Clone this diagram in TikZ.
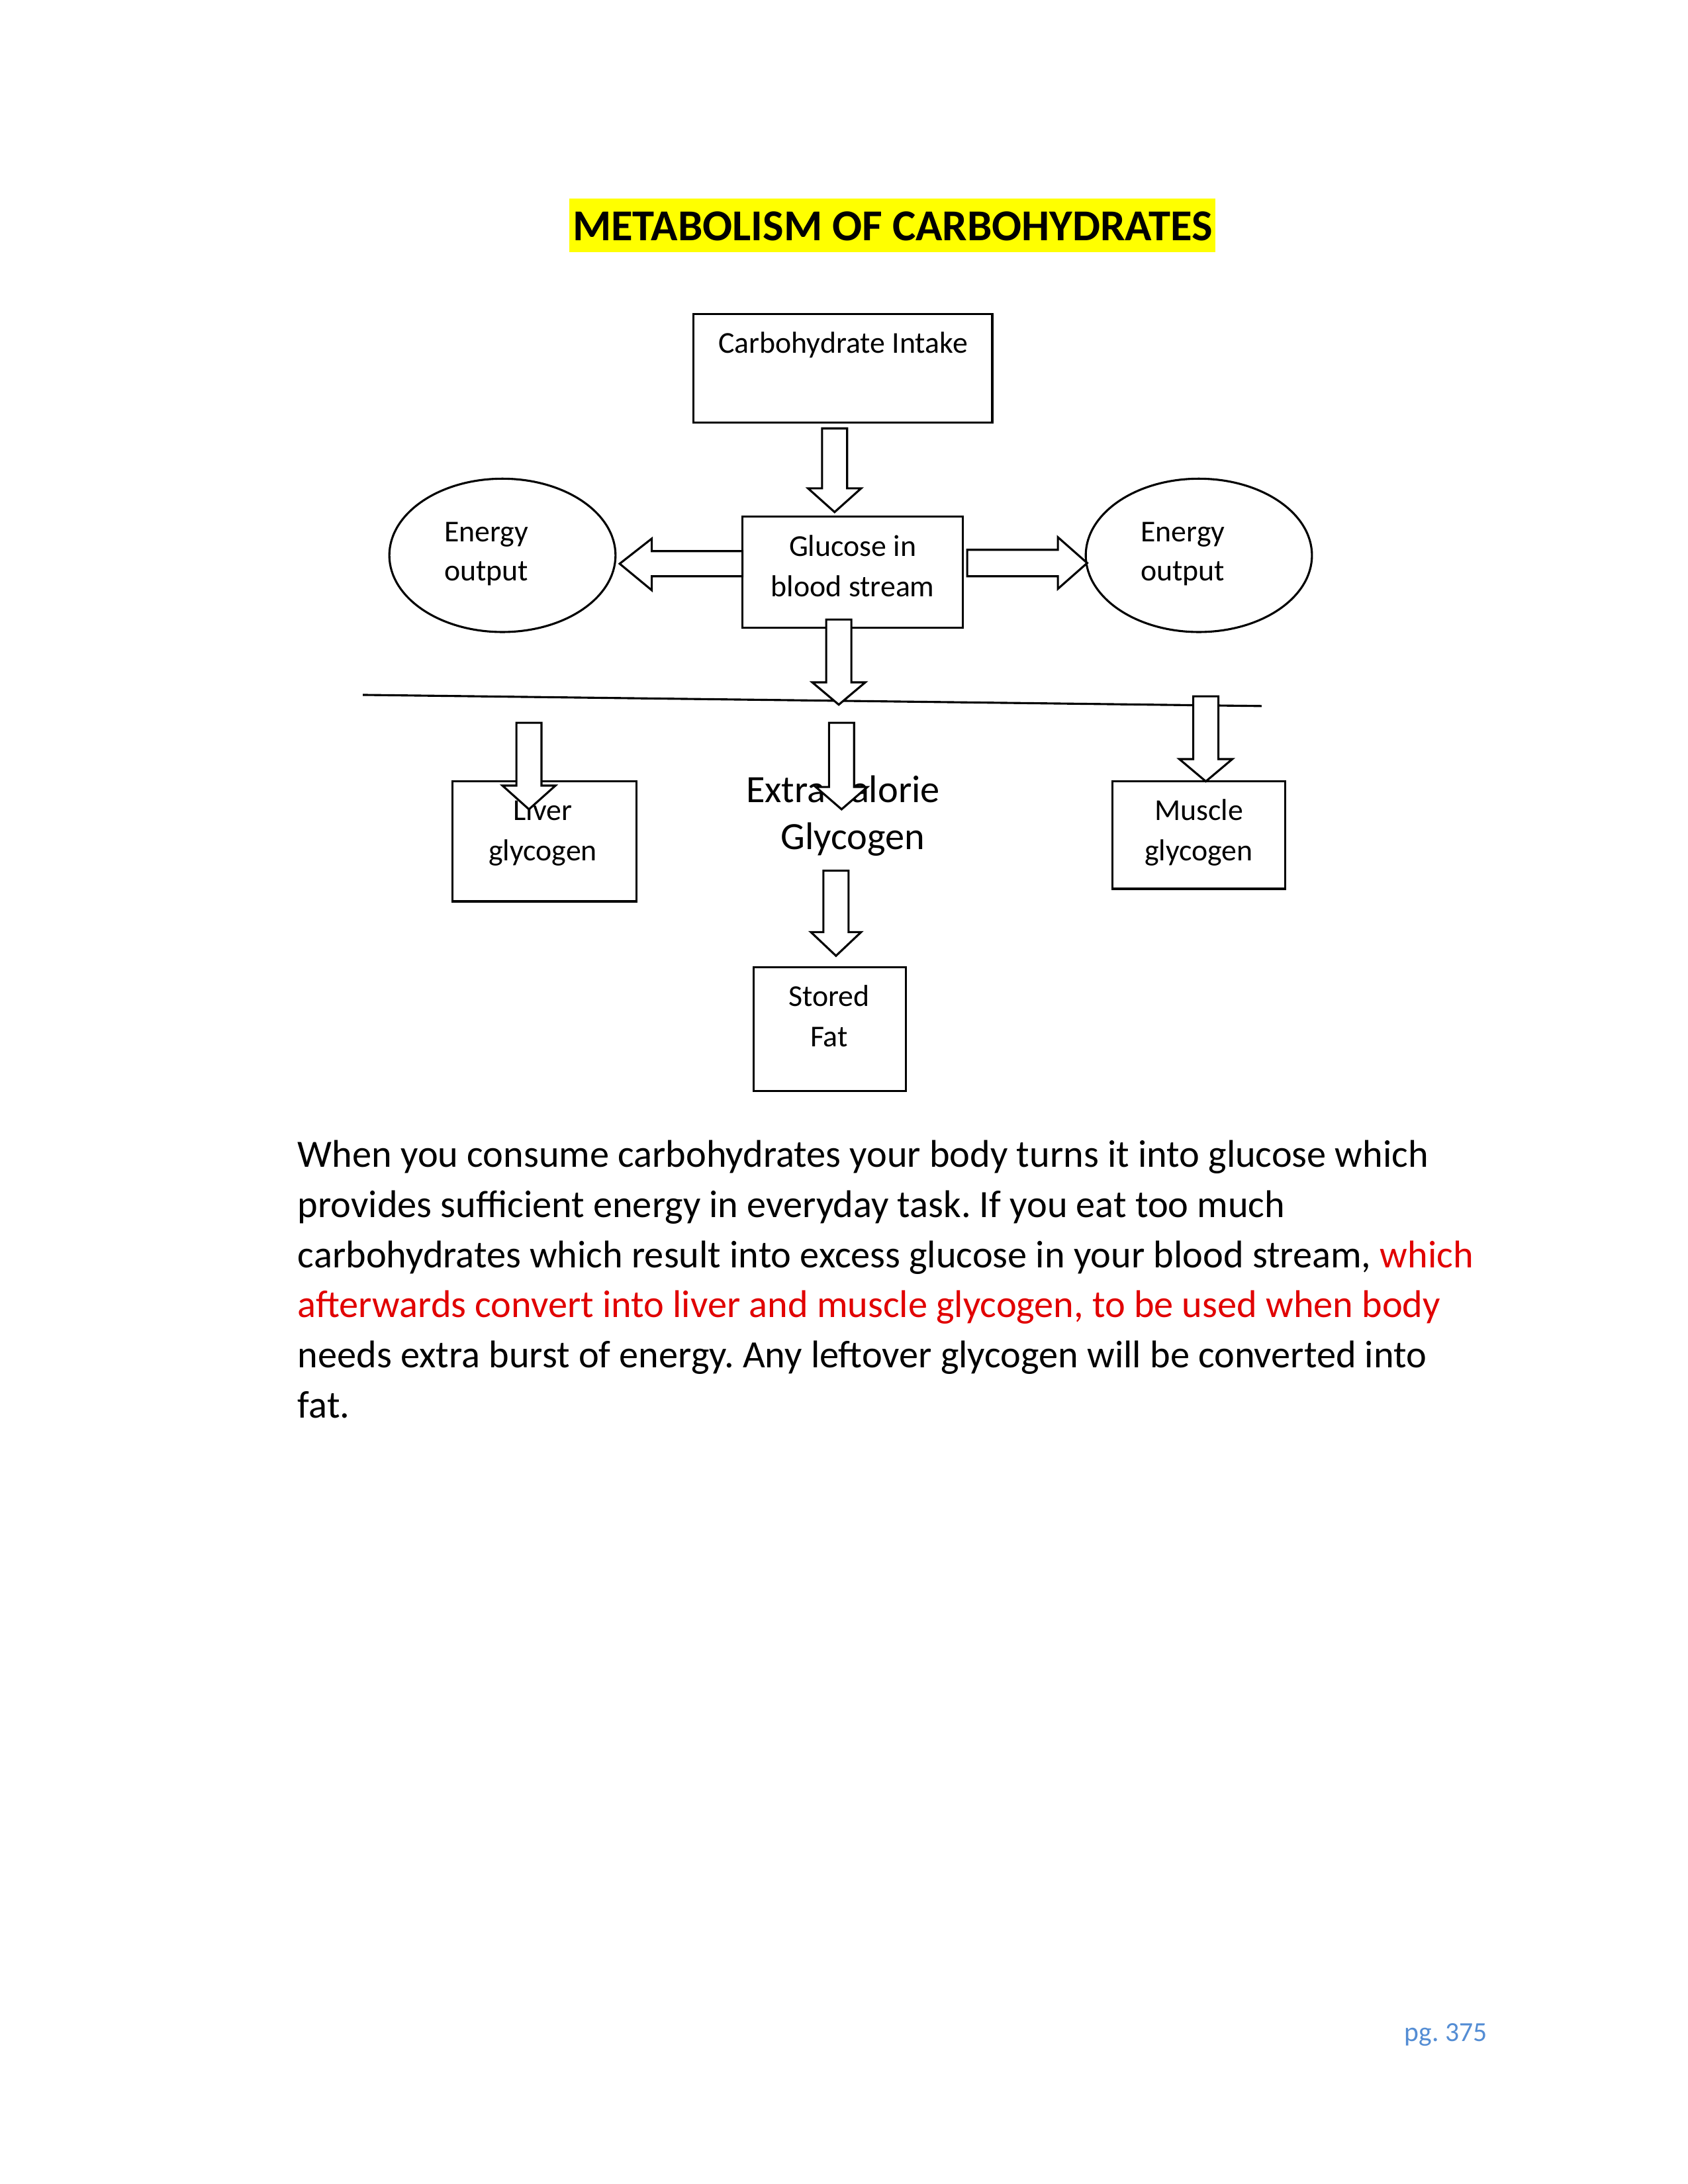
\documentclass[tikz,border=0pt]{standalone}
\usepackage{fontspec}
\setmainfont{Carlito}
\frenchspacing
\usetikzlibrary{shapes.geometric,fit}
\definecolor{redtext}{RGB}{225,0,0}
\definecolor{pgblue}{RGB}{84,141,212}
\definecolor{hilite}{RGB}{255,255,0}
\newcommand\dnarrow[6]{%
  \draw[barrow] (#1-#5,#2) -- (#1+#5,#2) -- (#1+#5,#3) -- (#1+#6,#3) -- (#1,#4) -- (#1-#6,#3) -- (#1-#5,#3) -- cycle;}
\tikzset{
  box/.style={draw, line width=0.75pt, inner sep=0pt, fill=white},
  oval/.style={draw, ellipse, line width=0.75pt, minimum width=82pt, minimum height=55.6pt, inner sep=0pt},
  barrow/.style={draw, line width=0.75pt, fill=white, line join=miter},
  lbl/.style={anchor=base, inner sep=0pt, font=\fontsize{11}{13}\selectfont},
  big/.style={anchor=base, inner sep=0pt, font=\fontsize{14}{17}\selectfont},
  body/.style={anchor=base west, inner sep=0pt, font=\fontsize{14}{17}\selectfont},
}
\begin{document}
\begin{tikzpicture}[x=0.506pt, y=-0.506pt]
\useasboundingbox[fill=white] (0,0) rectangle (1209.49,1565.22);
% title
\fill[hilite] (408,142.5) rectangle (871,180.5);
\node[anchor=base, inner sep=0pt, font=\fontsize{16}{19}\selectfont\bfseries] (title) at (639.5,172.5) {METABOLISM OF CARBOHYDRATES};
% boxes
\node[box, fit={(497,225) (711,303)}] (carb) {};
\node[lbl] (carbt) at (604,253) {Carbohydrate Intake};
\node[box, fit={(532,370) (690,450)}] (gluc) {};
\node[lbl] (glt1) at (611,398.5) {Glucose in};
\node[lbl] (glt2) at (611,427.5) {blood stream};
\node[oval] (eleft) at (360,398) {};
\node[lbl] (el1) at (348.5,388) {Energy};
\node[lbl] (el2) at (348.5,416) {output};
\node[oval] (eright) at (859,398) {};
\node[lbl] (er1) at (847.5,388) {Energy};
\node[lbl] (er2) at (847.5,416) {output};
\node[box, fit={(324,560) (456,646)}] (liver) {};
\node[lbl] (lv1) at (389,588) {Liver};
\node[lbl] (lv2) at (389,617) {glycogen};
\node[box, fit={(797,560) (921,637)}] (muscle) {};
\node[lbl] (ms1) at (859,588) {Muscle};
\node[lbl] (ms2) at (859,617) {glycogen};
\node[big] (extra) at (604,575) {Extra calorie};
\node[big] (glyc) at (611,609) {Glycogen};
\node[box, fit={(540,693) (649,782)}] (fat) {};
\node[lbl] (ft1) at (594,721) {Stored};
\node[lbl] (ft2) at (594,750) {Fat};
% divider line
\coordinate (lineL) at (260,498);
\coordinate (lineR) at (904,506);
\draw[line width=0.75pt] (lineL) -- (lineR);
% block arrows
\dnarrow{598}{307}{350}{367}{9}{19}
\dnarrow{601}{444}{489}{505}{9}{19}
\dnarrow{864}{499}{544}{560}{9}{19}
\dnarrow{379}{518}{563}{580}{9}{19}
\dnarrow{603}{518}{564}{580}{9}{18.5}
\dnarrow{599}{624}{668}{685}{9}{18}
\draw[barrow] (532,395) -- (467,395) -- (467,386) -- (444,404) -- (467,423) -- (467,413) -- (532,413) -- cycle;
\draw[barrow] (693,394) -- (758,394) -- (758,385) -- (779,403.5) -- (758,422) -- (758,413) -- (693,413) -- cycle;
% paragraph
\node[body] (b1) at (213,836.6) {When you consume carbohydrates your body turns it into glucose which};
\node[body] (b2) at (213,872.5) {provides sufficient energy in everyday task. If you eat too much};
\node[body] (b3) at (213,908.4) {carbohydrates which result into excess glucose in your blood stream, \textcolor{redtext}{which}};
\node[body, text=redtext] (b4) at (213,944.3) {afterwards convert into liver and muscle glycogen, to be used when body};
\node[body] (b5) at (213,980.2) {needs extra burst of energy. Any leftover glycogen will be converted into};
\node[body] (b6) at (213,1016.1) {fat.};
% page number
\node[anchor=base east, inner sep=0pt, text=pgblue, font=\fontsize{10}{12}\selectfont] (pg) at (1066,1463) {pg. 375};
\end{tikzpicture}
\end{document}
